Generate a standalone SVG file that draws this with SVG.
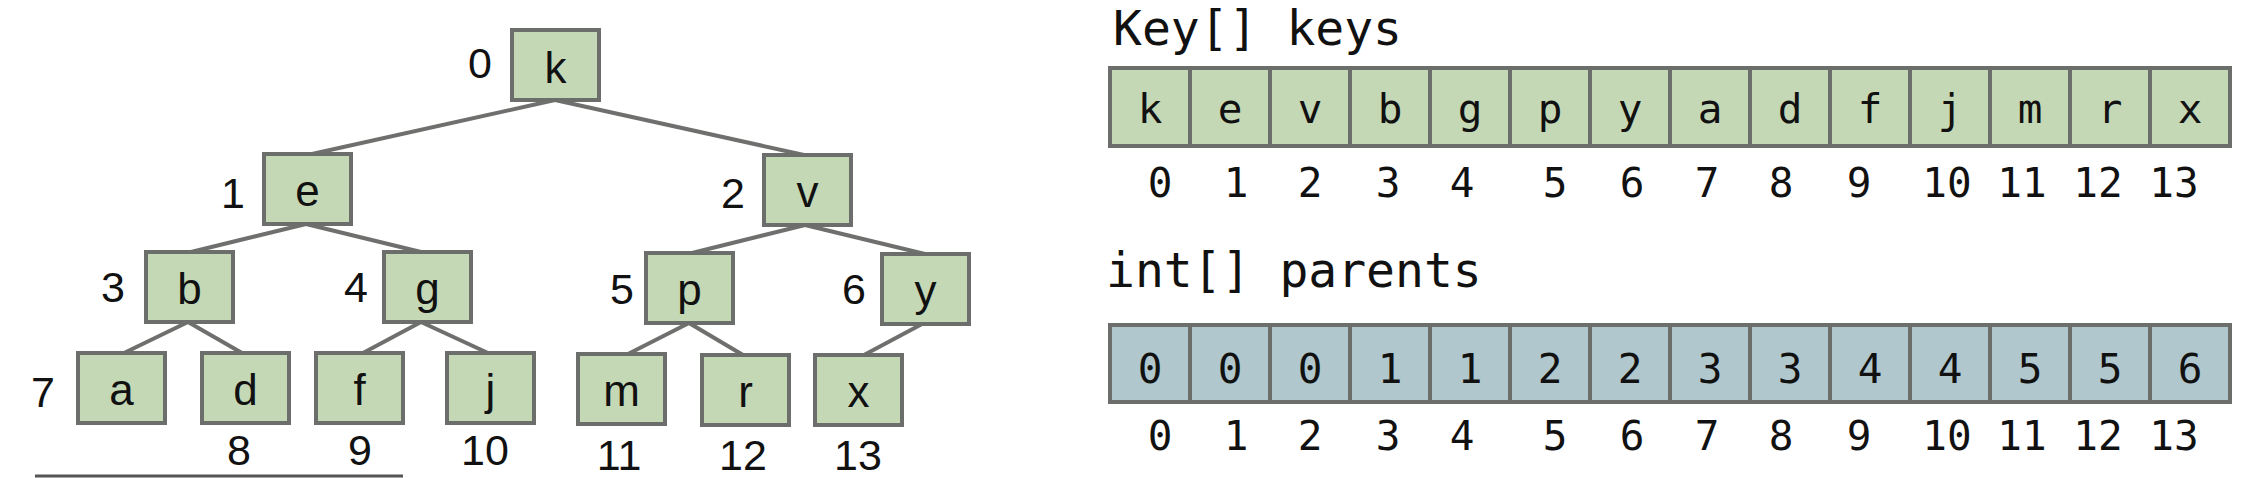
<svg xmlns="http://www.w3.org/2000/svg" width="2254" height="478" viewBox="0 0 2254 478">
<style>
.bg{fill:#ffffff}
.tn{fill:#c5d8b6;stroke:#6b6e6a;stroke-width:4}
.tl{font-family:"Liberation Sans",Arial,sans-serif;font-size:44px;fill:#111;text-anchor:middle}
.ix{font-family:"Liberation Sans",Arial,sans-serif;font-size:43px;fill:#111;text-anchor:middle}
.edge{stroke:#6f706e;stroke-width:4;fill:none}
.kc{fill:#c5d8b6;stroke:#6b6e6a;stroke-width:4}
.pc{fill:#b0c7ce;stroke:#6b6e6a;stroke-width:4}
.mono{font-family:"DejaVu Sans Mono",monospace;fill:#111}
.cell{font-size:41px;text-anchor:middle}
.aix{font-size:41px;text-anchor:middle}
.title{font-size:48px}
</style>
<rect class="bg" x="0" y="0" width="2254" height="478"/>
<g id="connectors">
<line class="edge" x1="555" y1="100" x2="312" y2="154"/>
<line class="edge" x1="555" y1="100" x2="804" y2="155"/>
<line class="edge" x1="306" y1="224" x2="191" y2="252"/>
<line class="edge" x1="306" y1="224" x2="421" y2="252"/>
<line class="edge" x1="805" y1="225" x2="692" y2="253"/>
<line class="edge" x1="805" y1="225" x2="925" y2="254"/>
<line class="edge" x1="188" y1="322" x2="124" y2="353"/>
<line class="edge" x1="188" y1="322" x2="242" y2="353"/>
<line class="edge" x1="421" y1="322" x2="363" y2="353"/>
<line class="edge" x1="421" y1="322" x2="488" y2="353"/>
<line class="edge" x1="689" y1="323" x2="628" y2="354"/>
<line class="edge" x1="689" y1="323" x2="743" y2="355"/>
<line class="edge" x1="922" y1="324" x2="864" y2="355"/>
</g>
<g id="node-k"><rect class="tn" x="512" y="30" width="87" height="70"/><text class="tl" x="555.5" y="83">k</text><text class="ix" x="480" y="78">0</text></g>
<g id="node-e"><rect class="tn" x="264" y="154" width="87" height="70"/><text class="tl" x="307.5" y="206">e</text><text class="ix" x="233" y="208">1</text></g>
<g id="node-v"><rect class="tn" x="764" y="155" width="87" height="70"/><text class="tl" x="807.5" y="207">v</text><text class="ix" x="733" y="208">2</text></g>
<g id="node-b"><rect class="tn" x="146" y="252" width="87" height="70"/><text class="tl" x="189.5" y="304">b</text><text class="ix" x="113" y="302">3</text></g>
<g id="node-g"><rect class="tn" x="384" y="252" width="87" height="70"/><text class="tl" x="427.5" y="304">g</text><text class="ix" x="356" y="302">4</text></g>
<g id="node-p"><rect class="tn" x="646" y="253" width="87" height="70"/><text class="tl" x="689.5" y="305">p</text><text class="ix" x="622" y="304">5</text></g>
<g id="node-y"><rect class="tn" x="882" y="254" width="87" height="70"/><text class="tl" x="925.5" y="306">y</text><text class="ix" x="854" y="304">6</text></g>
<g id="node-a"><rect class="tn" x="78" y="353" width="87" height="70"/><text class="tl" x="121.5" y="405">a</text><text class="ix" x="43" y="407">7</text></g>
<g id="node-d"><rect class="tn" x="202" y="353" width="87" height="70"/><text class="tl" x="245.5" y="405">d</text><text class="ix" x="239" y="465">8</text></g>
<g id="node-f"><rect class="tn" x="316" y="353" width="87" height="70"/><text class="tl" x="359.5" y="405">f</text><text class="ix" x="360" y="465">9</text></g>
<g id="node-j"><rect class="tn" x="447" y="353" width="87" height="70"/><text class="tl" x="490.5" y="405">j</text><text class="ix" x="485" y="465">10</text></g>
<g id="node-m"><rect class="tn" x="578" y="354" width="87" height="70"/><text class="tl" x="621.5" y="406">m</text><text class="ix" x="619" y="470">11</text></g>
<g id="node-r"><rect class="tn" x="702" y="355" width="87" height="70"/><text class="tl" x="745.5" y="407">r</text><text class="ix" x="743" y="470">12</text></g>
<g id="node-x"><rect class="tn" x="815" y="355" width="87" height="70"/><text class="tl" x="858.5" y="407">x</text><text class="ix" x="858" y="470">13</text></g>
<line x1="35" y1="476" x2="403" y2="476" stroke="#555" stroke-width="3"/>

<g id="keys-array">
<text class="mono title" x="1113" y="45">Key[] keys</text>
<rect class="kc" x="1110" y="68" width="80" height="78"/>
<rect class="kc" x="1190" y="68" width="80" height="78"/>
<rect class="kc" x="1270" y="68" width="80" height="78"/>
<rect class="kc" x="1350" y="68" width="80" height="78"/>
<rect class="kc" x="1430" y="68" width="80" height="78"/>
<rect class="kc" x="1510" y="68" width="80" height="78"/>
<rect class="kc" x="1590" y="68" width="80" height="78"/>
<rect class="kc" x="1670" y="68" width="80" height="78"/>
<rect class="kc" x="1750" y="68" width="80" height="78"/>
<rect class="kc" x="1830" y="68" width="80" height="78"/>
<rect class="kc" x="1910" y="68" width="80" height="78"/>
<rect class="kc" x="1990" y="68" width="80" height="78"/>
<rect class="kc" x="2070" y="68" width="80" height="78"/>
<rect class="kc" x="2150" y="68" width="80" height="78"/>
<g class="mono cell">
<text x="1150" y="123">k</text><text x="1230" y="123">e</text><text x="1310" y="123">v</text><text x="1390" y="123">b</text><text x="1470" y="123">g</text><text x="1550" y="123">p</text><text x="1630" y="123">y</text><text x="1710" y="123">a</text><text x="1790" y="123">d</text><text x="1870" y="123">f</text><text x="1950" y="123">j</text><text x="2030" y="123">m</text><text x="2110" y="123">r</text><text x="2190" y="123">x</text>
</g>
<g class="mono aix">
<text x="1160" y="197">0</text><text x="1236" y="197">1</text><text x="1310" y="197">2</text><text x="1388" y="197">3</text><text x="1462" y="197">4</text><text x="1555" y="197">5</text><text x="1632" y="197">6</text><text x="1707" y="197">7</text><text x="1781" y="197">8</text><text x="1859" y="197">9</text><text x="1947" y="197">10</text><text x="2022" y="197">11</text><text x="2098" y="197">12</text><text x="2174" y="197">13</text>
</g>
</g>

<g id="parents-array">
<text class="mono title" x="1106" y="287">int[] parents</text>
<rect class="pc" x="1110" y="325" width="80" height="77"/>
<rect class="pc" x="1190" y="325" width="80" height="77"/>
<rect class="pc" x="1270" y="325" width="80" height="77"/>
<rect class="pc" x="1350" y="325" width="80" height="77"/>
<rect class="pc" x="1430" y="325" width="80" height="77"/>
<rect class="pc" x="1510" y="325" width="80" height="77"/>
<rect class="pc" x="1590" y="325" width="80" height="77"/>
<rect class="pc" x="1670" y="325" width="80" height="77"/>
<rect class="pc" x="1750" y="325" width="80" height="77"/>
<rect class="pc" x="1830" y="325" width="80" height="77"/>
<rect class="pc" x="1910" y="325" width="80" height="77"/>
<rect class="pc" x="1990" y="325" width="80" height="77"/>
<rect class="pc" x="2070" y="325" width="80" height="77"/>
<rect class="pc" x="2150" y="325" width="80" height="77"/>
<g class="mono cell">
<text x="1150" y="383">0</text><text x="1230" y="383">0</text><text x="1310" y="383">0</text><text x="1390" y="383">1</text><text x="1470" y="383">1</text><text x="1550" y="383">2</text><text x="1630" y="383">2</text><text x="1710" y="383">3</text><text x="1790" y="383">3</text><text x="1870" y="383">4</text><text x="1950" y="383">4</text><text x="2030" y="383">5</text><text x="2110" y="383">5</text><text x="2190" y="383">6</text>
</g>
<g class="mono aix">
<text x="1160" y="450">0</text><text x="1236" y="450">1</text><text x="1310" y="450">2</text><text x="1388" y="450">3</text><text x="1462" y="450">4</text><text x="1555" y="450">5</text><text x="1632" y="450">6</text><text x="1707" y="450">7</text><text x="1781" y="450">8</text><text x="1859" y="450">9</text><text x="1947" y="450">10</text><text x="2022" y="450">11</text><text x="2098" y="450">12</text><text x="2174" y="450">13</text>
</g>
</g>
</svg>
